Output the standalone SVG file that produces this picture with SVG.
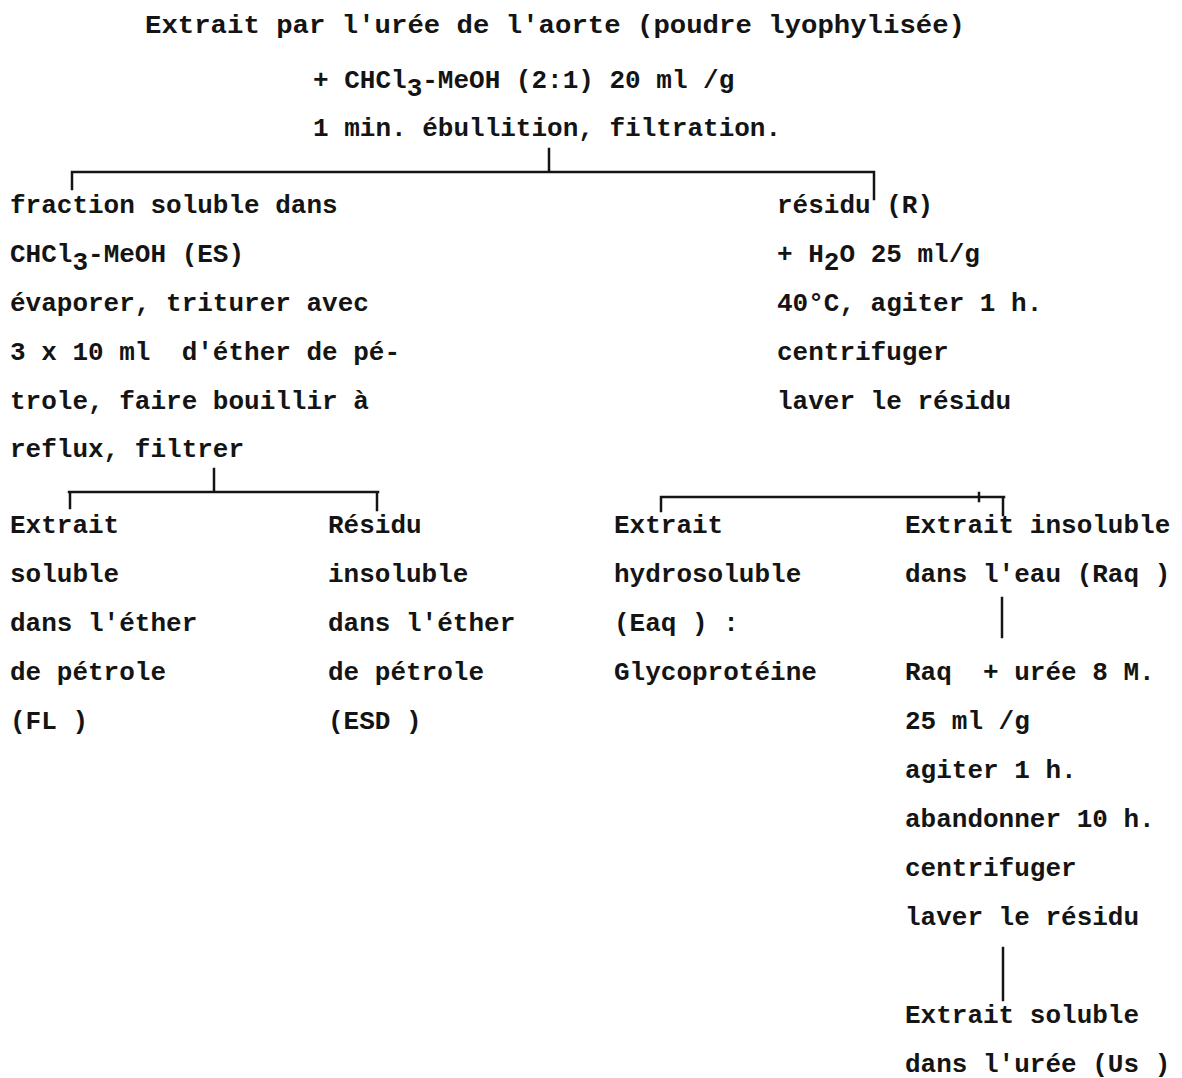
<svg xmlns="http://www.w3.org/2000/svg" width="1182" height="1078" viewBox="0 0 1182 1078">
<style>
text{font-family:"Liberation Mono","DejaVu Sans Mono",monospace;font-size:26px;font-weight:bold;fill:#141414;white-space:pre}
.c{stroke:#141414;stroke-width:2.5;fill:none;stroke-linecap:square}
</style>
<rect width="1182" height="1078" fill="#ffffff"/>
<g id="connectors">
<path class="c" d="M549 149V172M72 172H874M72 172V189M874 172V199"/>
<path class="c" d="M214 469V492M69 492H378M70 492V508M377 492V510"/>
<path class="c" d="M661 497H1004M661 497V511M1003 497V515M979 493V501"/>
<path class="c" d="M1002 598V637"/>
<path class="c" d="M1003 948V1000"/>
</g>
<g id="start">
<text x="145" y="33" textLength="820" lengthAdjust="spacingAndGlyphs">Extrait par l'urée de l'aorte (poudre lyophylisée)</text>
<text x="313" y="88">+ CHCl<tspan dy="8">3</tspan><tspan dy="-8">-MeOH (2:1) 20 ml /g</tspan></text>
<text x="313" y="136">1 min. ébullition, filtration.</text>
</g>
<g id="es">
<text x="10" y="213">fraction soluble dans</text>
<text x="10" y="262">CHCl<tspan dy="8">3</tspan><tspan dy="-8">-MeOH (ES)</tspan></text>
<text x="10" y="311">évaporer, triturer avec</text>
<text x="10" y="360" xml:space="preserve">3 x 10 ml  d'éther de pé-</text>
<text x="10" y="409">trole, faire bouillir à</text>
<text x="10" y="457">reflux, filtrer</text>
</g>
<g id="r">
<text x="777" y="213">résidu (R)</text>
<text x="777" y="262">+ H<tspan dy="8">2</tspan><tspan dy="-8">O 25 ml/g</tspan></text>
<text x="777" y="311">40°C, agiter 1 h.</text>
<text x="777" y="360">centrifuger</text>
<text x="777" y="409">laver le résidu</text>
</g>
<g id="fl">
<text x="10" y="533">Extrait</text>
<text x="10" y="582">soluble</text>
<text x="10" y="631">dans l'éther</text>
<text x="10" y="680">de pétrole</text>
<text x="10" y="729">(FL )</text>
</g>
<g id="esd">
<text x="328" y="533">Résidu</text>
<text x="328" y="582">insoluble</text>
<text x="328" y="631">dans l'éther</text>
<text x="328" y="680">de pétrole</text>
<text x="328" y="729">(ESD )</text>
</g>
<g id="eaq">
<text x="614" y="533">Extrait</text>
<text x="614" y="582">hydrosoluble</text>
<text x="614" y="631">(Eaq ) :</text>
<text x="614" y="680">Glycoprotéine</text>
</g>
<g id="raq">
<text x="905" y="533">Extrait insoluble</text>
<text x="905" y="582">dans l'eau (Raq )</text>
</g>
<g id="urea">
<text x="905" y="680" xml:space="preserve">Raq  + urée 8 M.</text>
<text x="905" y="729">25 ml /g</text>
<text x="905" y="778">agiter 1 h.</text>
<text x="905" y="827">abandonner 10 h.</text>
<text x="905" y="876">centrifuger</text>
<text x="905" y="925">laver le résidu</text>
</g>
<g id="us">
<text x="905" y="1023">Extrait soluble</text>
<text x="905" y="1072">dans l'urée (Us )</text>
</g>
</svg>
